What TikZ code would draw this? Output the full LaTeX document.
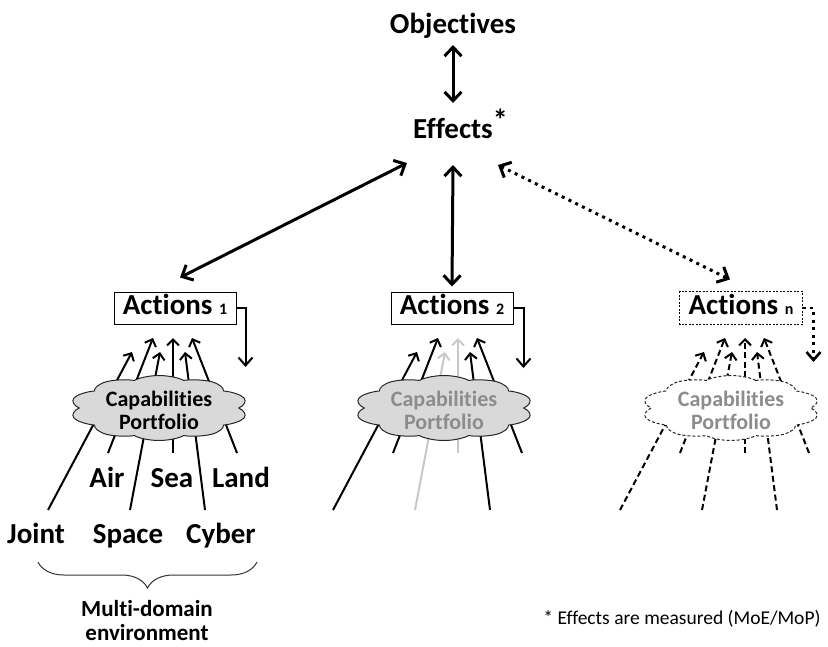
\documentclass[tikz,border=0pt]{standalone}
\usepackage{fontspec}
\setmainfont{Carlito}[Ligatures=NoCommon]
\usetikzlibrary{shapes}
\usetikzlibrary{arrows.meta}
\usetikzlibrary{decorations.pathreplacing}

\definecolor{cloudgray}{HTML}{D9D9D9}
\definecolor{textgray}{HTML}{8C8C8C}
\definecolor{linegray}{HTML}{C8C8C8}

\tikzset{
  big/.style={font=\fontsize{29}{32}\selectfont\bfseries},
  actbox/.style={big, draw, line width=1pt, minimum width=122pt,
    text height=19pt, text depth=7pt, inner ysep=3pt, inner xsep=3pt},
  capcloud/.style={cloud, cloud puffs=10, cloud puff arc=115, draw=black!85,
    line width=1pt, minimum size=65pt, inner sep=0pt},
  captext/.style={font=\fontsize{22}{23}\selectfont\bfseries, align=center},
  both/.style={{Straight Barb[length=9pt,width=17pt]}-{Straight Barb[length=9pt,width=17pt]},
    line width=3pt},
  feed/.style={-{Straight Barb[length=8pt,width=14pt]}, line width=2pt},
  up/.style={-{Straight Barb[length=6pt,width=12pt]}, line width=2pt},
  dots/.style={dash pattern=on 3pt off 4.5pt},
  dashes/.style={dash pattern=on 6pt off 3.5pt}
}
\newcommand\idx[1]{{\fontsize{16}{16}\selectfont #1}}

\begin{document}
\begin{tikzpicture}[x=1pt,y=-1pt]
\useasboundingbox (0,0) rectangle (828,646);

\path (453,33) node[big,anchor=base](obj) {Objectives}
(453,138) node[big,anchor=base](eff) {Effects\rlap{\raisebox{8pt}{\fontsize{30}{30}\selectfont *}}}
(175,308) node[actbox](act1) {Actions \idx{1}}
(452,308) node[actbox](act2) {Actions \idx{2}}
(741,308) node[actbox,draw=none](actn) {Actions \idx{n}}
(36,543) node[big,anchor=base](joint) {Joint}
(128,543) node[big,anchor=base](space) {Space}
(221,543) node[big,anchor=base](cyber) {Cyber}
(107,487) node[big,anchor=base](air) {Air}
(172,487) node[big,anchor=base](sea) {Sea}
(241,487) node[big,anchor=base](land) {Land}
(147,621) node[font=\fontsize{23}{24}\selectfont\bfseries,align=center,inner sep=0pt](multi) {Multi-domain\\environment}
(682,624) node[anchor=base,font=\fontsize{19.5}{22}\selectfont](note) {* Effects are measured (MoE/MoP)}
;
\coordinate (c1) at (159,408);
\coordinate (c2) at (444,408);
\coordinate (cn) at (731,408);
\coordinate (bl) at (38,562);
\coordinate (br) at (257,562);

% dashed frame of the last action
\draw[line width=1pt,dash pattern=on 2pt off 1.5pt] (actn.south west) rectangle (actn.north east);

\draw[both] ([yshift=-12pt]obj.base) -- ([yshift=35pt]eff.base);
\draw[both] ([xshift=-46pt,yshift=-25pt]eff.base) -- ([xshift=5pt,yshift=14pt]act1.north);
\draw[both] ([yshift=-27pt]eff.base) -- ([yshift=5pt]act2.north);
\draw[both,dots] ([xshift=45pt,yshift=-27pt]eff.base) -- ([xshift=-11pt,yshift=12pt]actn.north);

\draw[feed] (act1.east) -| ([xshift=9pt,yshift=-59pt]act1.east);
\draw[feed] (act2.east) -| ([xshift=10pt,yshift=-60pt]act2.east);
\draw[feed,line width=2.6pt,dots] (actn.east) -| ([xshift=11pt,yshift=-54pt]actn.east);

% domains into the first portfolio
\draw[up] ([xshift=12pt,yshift=33pt]joint.base) -- ([xshift=-27pt,yshift=56pt]c1);
\draw[up] ([xshift=1pt,yshift=34pt]air.base) -- ([xshift=-6pt,yshift=70pt]c1);
\draw[up] ([xshift=2pt,yshift=33pt]space.base) -- ([xshift=1pt,yshift=56pt]c1);
\draw[up] ([xshift=1pt,yshift=34pt]sea.base) -- ([xshift=14pt,yshift=70pt]c1);
\draw[up] ([xshift=-16pt,yshift=33pt]cyber.base) -- ([xshift=26pt,yshift=56pt]c1);
\draw[up] ([xshift=-4pt,yshift=34pt]land.base) -- ([xshift=33pt,yshift=70pt]c1);

% second portfolio
\draw[up] ([xshift=-111pt,yshift=-102pt]c2) -- ([xshift=-27pt,yshift=56pt]c2);
\draw[up] ([xshift=-51pt,yshift=-45pt]c2) -- ([xshift=-6pt,yshift=70pt]c2);
\draw[up,linegray] ([xshift=-29pt,yshift=-102pt]c2) -- ([xshift=1pt,yshift=56pt]c2);
\draw[up,linegray] ([xshift=14pt,yshift=-45pt]c2) -- ([xshift=14pt,yshift=70pt]c2);
\draw[up] ([xshift=46pt,yshift=-102pt]c2) -- ([xshift=26pt,yshift=56pt]c2);
\draw[up] ([xshift=78pt,yshift=-45pt]c2) -- ([xshift=33pt,yshift=70pt]c2);

% last portfolio
\draw[up,dashes] ([xshift=-111pt,yshift=-102pt]cn) -- ([xshift=-27pt,yshift=56pt]cn);
\draw[up,dashes] ([xshift=-51pt,yshift=-45pt]cn) -- ([xshift=-6pt,yshift=70pt]cn);
\draw[up,dashes] ([xshift=-29pt,yshift=-102pt]cn) -- ([xshift=1pt,yshift=56pt]cn);
\draw[up,dashes] ([xshift=14pt,yshift=-45pt]cn) -- ([xshift=14pt,yshift=70pt]cn);
\draw[up,dashes] ([xshift=46pt,yshift=-102pt]cn) -- ([xshift=26pt,yshift=56pt]cn);
\draw[up,dashes] ([xshift=78pt,yshift=-45pt]cn) -- ([xshift=33pt,yshift=70pt]cn);

% the clouds, stretched sideways
\begin{scope}[shift={(c1)},xscale=2.75,transform shape]
\node[capcloud,fill=cloudgray] (cap1) at (0,0) {};
\end{scope}
\begin{scope}[shift={(c2)},xscale=2.75,transform shape]
\node[capcloud,fill=cloudgray] (cap2) at (0,0) {};
\end{scope}
\begin{scope}[shift={(cn)},xscale=2.75,transform shape]
\node[capcloud,fill=white,dash pattern=on 3pt off 2pt] (capn) at (0,0) {};
\end{scope}
\node[captext] (txt1) at ([yshift=-2pt]cap1.center) {Capabilities\\Portfolio};
\node[captext,textgray] (txt2) at ([yshift=-2pt]cap2.center) {Capabilities\\Portfolio};
\node[captext,textgray] (txtn) at ([yshift=-2pt]capn.center) {Capabilities\\Portfolio};

\draw[line width=1pt,black!80,decorate,decoration={brace,amplitude=26pt}] (br) -- (bl);
\end{tikzpicture}
\end{document}
